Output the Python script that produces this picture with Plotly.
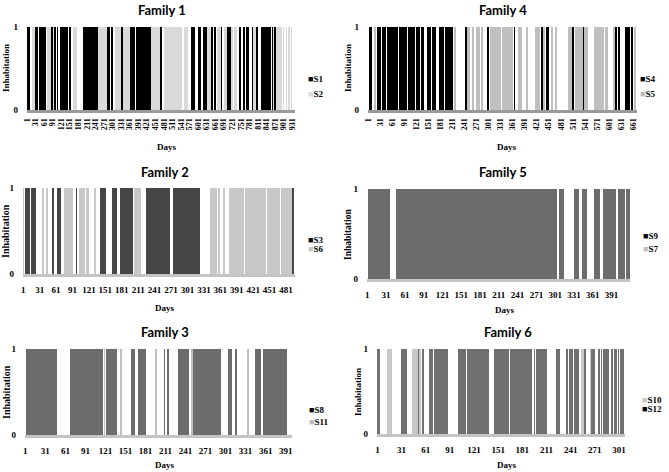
import plotly.graph_objects as go

W, H = 669, 472

# ---------------- data: days on which each subject inhabited (first day, last day) ----------------
F1_DAYS = 940
F1_S1 = [(2, 12), (28, 37), (42, 51), (55, 66), (84, 91), (97, 102), (105, 109), (116, 144), (147, 154),
         (196, 250), (282, 291), (297, 303), (332, 335), (363, 378), (382, 436), (469, 474), (576, 588),
         (600, 609), (619, 631), (646, 652), (658, 664), (681, 685), (704, 716), (745, 751), (759, 765),
         (768, 778), (789, 794), (803, 809), (821, 856), (859, 864), (868, 873)]
F1_S2 = [(19, 27), (72, 84), (92, 96), (161, 168), (171, 177), (251, 281), (308, 331), (338, 362),
         (437, 468), (481, 545), (550, 565), (632, 645), (669, 680), (693, 701), (717, 722), (728, 736),
         (795, 802), (865, 867), (875, 879), (882, 887), (890, 894), (899, 902), (908, 912), (917, 921),
         (927, 931)]

F4_DAYS = 670
F4_S4 = [(3, 10), (23, 32), (36, 46), (48, 49), (51, 52), (54, 55), (57, 75), (77, 96), (100, 102),
         (104, 106), (108, 111), (113, 118), (120, 122), (124, 126), (128, 130), (132, 134), (136, 139),
         (148, 158), (160, 162), (164, 166), (168, 170), (179, 190), (192, 212), (243, 247), (298, 301),
         (364, 367), (433, 436), (445, 451), (509, 514), (537, 539), (617, 621), (624, 628), (642, 653),
         (657, 661)]
F4_S5 = [(15, 21), (216, 218), (248, 254), (260, 265), (270, 279), (283, 287), (304, 331), (334, 362),
         (374, 383), (395, 399), (416, 428), (437, 441), (458, 462), (466, 470), (499, 508), (517, 536),
         (540, 549), (564, 587), (592, 597), (611, 616), (663, 668)]

F2_DAYS = 497
F2_S3 = [(5, 7), (9, 12), (15, 24), (54, 56), (64, 70), (98, 99), (142, 151), (163, 172), (179, 201),
         (226, 268), (275, 323), (493, 496)]
F2_S6 = [(1, 2), (35, 38), (43, 46), (76, 91), (104, 113), (117, 121), (131, 134), (204, 216), (343, 354),
         (358, 360), (366, 369), (378, 404), (406, 423), (425, 444), (446, 470), (472, 491)]

F5_DAYS = 420
F5_S9 = [(2, 37), (47, 304), (308, 314), (332, 339), (344, 351), (364, 372), (378, 397), (402, 412),
         (414, 420)]
F5_S7 = []

F3_DAYS = 400
F3_S8 = [(2, 48), (69, 117), (122, 138), (160, 165), (170, 181), (209, 210), (213, 215), (230, 245),
         (252, 293), (305, 310), (316, 318), (345, 353), (358, 393)]
F3_S11 = [(119, 120), (143, 146), (196, 197), (249, 251), (333, 336)]

F6_DAYS = 308
F6_S10 = [(14, 19), (45, 51), (53, 55), (254, 257), (265, 266)]
F6_S12 = [(1, 4), (31, 33), (35, 37), (52, 52), (57, 58), (66, 70), (72, 84), (86, 88), (102, 111),
          (113, 139), (146, 164), (166, 192), (196, 196), (198, 211), (223, 227), (236, 237), (239, 243),
          (246, 248), (250, 251), (258, 259), (267, 271), (275, 277), (279, 280), (282, 284), (286, 288),
          (291, 293), (295, 298), (300, 301), (303, 307)]

F1_TICKS = list(range(1, 932, 30))
F4_TICKS = list(range(1, 662, 30))
F2_TICKS = list(range(1, 482, 30))
F5_TICKS = list(range(1, 392, 30))
F3_TICKS = list(range(1, 392, 30))
F6_TICKS = list(range(1, 302, 30))


def expand(intervals, n):
    v = [0] * n
    for a, b in intervals:
        for d in range(a, b + 1):
            if 1 <= d <= n:
                v[d - 1] = 1
    return v


def px(x):
    return x / W


def py(y):
    return 1 - y / H


SERIF = "Liberation Serif"
BLACK = "#000000"

# (legend label, intervals, swatch colour, rendered bar colour)
panels = [
    dict(title="Family 1", n=F1_DAYS, ticks=F1_TICKS, box=(27, 27, 295, 110), rot=True,
         series=[("S1", F1_S1, BLACK, "rgba(0,0,0,0.999)"),
                 ("S2", F1_S2, "#d9d9d9", "rgba(217,217,217,0.999)")],
         tpos=(162, 10), ypos=(6, 68), dpos=(167, 147), leg=[(306, 79), (306, 94)], line="#9a9a9a", ysz=9),
    dict(title="Family 4", n=F4_DAYS, ticks=F4_TICKS, box=(368, 27, 637, 110), rot=True,
         series=[("S4", F4_S4, BLACK, "rgba(0,0,0,0.999)"),
                 ("S5", F4_S5, "#bfbfbf", "rgba(191,191,191,0.999)")],
         tpos=(503, 10), ypos=(348, 68), dpos=(507, 147), leg=[(638, 79), (638, 94)], line="#9a9a9a", ysz=9),
    dict(title="Family 2", n=F2_DAYS, ticks=F2_TICKS, box=(23, 188, 295, 274), rot=False,
         series=[("S3", F2_S3, BLACK, "rgba(70,70,70,0.999)"),
                 ("S6", F2_S6, "#c8c8c8", "rgba(200,200,200,0.999)")],
         tpos=(165, 172), ypos=(6, 231), dpos=(165, 308), leg=[(306, 240), (306, 249)], line="#c4c4c4", ysz=10),
    dict(title="Family 5", n=F5_DAYS, ticks=F5_TICKS, box=(367, 189, 630, 279), rot=False,
         series=[("S9", F5_S9, BLACK, "rgba(108,108,108,0.999)"),
                 ("S7", F5_S7, "#bfbfbf", "rgba(191,191,191,0.999)")],
         tpos=(503, 172), ypos=(348, 234), dpos=(505, 310), leg=[(641, 236), (641, 249)], line="#c4c4c4", ysz=9.5),
    dict(title="Family 3", n=F3_DAYS, ticks=F3_TICKS, box=(25, 349, 292, 435), rot=False,
         series=[("S8", F3_S8, BLACK, "rgba(108,108,108,0.999)"),
                 ("S11", F3_S11, "#bfbfbf", "rgba(191,191,191,0.999)")],
         tpos=(165, 332), ypos=(6, 392), dpos=(165, 465), leg=[(307, 410), (307, 422)], line="#c4c4c4", ysz=10),
    dict(title="Family 6", n=F6_DAYS, ticks=F6_TICKS, box=(377, 349, 625, 434), rot=False,
         series=[("S10", F6_S10, "#c8c8c8", "rgba(200,200,200,0.999)"),
                 ("S12", F6_S12, BLACK, "rgba(112,112,112,0.999)")],
         tpos=(508, 332), ypos=(358, 392), dpos=(507, 465), leg=[(640, 400), (640, 409)], line="#c4c4c4", ysz=9),
]

fig = go.Figure()
annotations = []
layout = {}

for i, p in enumerate(panels):
    k = "" if i == 0 else str(i + 1)
    n = p["n"]
    days = list(range(1, n + 1))
    for name, iv, swatch, barcolor in p["series"]:
        fig.add_trace(go.Bar(x=days, y=expand(iv, n), name=name,
                             marker=dict(color=barcolor, line=dict(width=0)),
                             width=1.0, xaxis="x" + k, yaxis="y" + k, showlegend=False, hoverinfo="skip"))
    x0, y0, x1, y1 = p["box"]
    layout["xaxis" + k] = dict(
        domain=[px(x0), px(x1)], anchor="y" + k, range=[0.5, n + 0.5], automargin=False,
        tickmode="array", tickvals=p["ticks"], ticktext=[str(t) for t in p["ticks"]],
        tickangle=-90 if p["rot"] else 0, ticks="", showgrid=False, zeroline=False,
        showline=True, linecolor=p["line"], linewidth=3,
        ticklabelstandoff=2 if p["rot"] else 5,
        tickfont=dict(family=SERIF, size=8 if p["rot"] else 9, color="#000", weight="bold"),
        fixedrange=True)
    layout["yaxis" + k] = dict(
        domain=[py(y1), py(y0)], anchor="x" + k, range=[0, 1], automargin=False,
        tickmode="array", tickvals=[0, 1], ticktext=["0", "1"], ticks="",
        showgrid=True, gridcolor="#d9d9d9", gridwidth=1, zeroline=False, showline=False,
        ticklabelstandoff=8,
        tickfont=dict(family=SERIF, size=9, color="#000", weight="bold"), fixedrange=True)
    annotations.append(dict(text=p["title"], x=px(p["tpos"][0]), y=py(p["tpos"][1]), xref="paper", yref="paper",
                            showarrow=False, xanchor="center", yanchor="middle",
                            font=dict(family="Lato", size=13, color="#000", weight="bold")))
    annotations.append(dict(text="Inhabitation", x=px(p["ypos"][0]), y=py(p["ypos"][1]), xref="paper",
                            yref="paper", showarrow=False, textangle=-90, xanchor="center", yanchor="middle",
                            font=dict(family=SERIF, size=p["ysz"], color="#000", weight="bold")))
    annotations.append(dict(text="Days", x=px(p["dpos"][0]), y=py(p["dpos"][1]), xref="paper", yref="paper",
                            showarrow=False, xanchor="center", yanchor="middle",
                            font=dict(family=SERIF, size=9, color="#000", weight="bold")))
    for (name, iv, swatch, barcolor), (lx, ly) in zip(p["series"], p["leg"]):
        annotations.append(dict(text="<span style='color:%s'>■</span>%s" % (swatch, name),
                                x=px(lx), y=py(ly), xref="paper", yref="paper", showarrow=False,
                                xanchor="left", yanchor="middle",
                                font=dict(family=SERIF, size=9, color="#000", weight="bold")))

fig.update_layout(width=W, height=H, margin=dict(l=0, r=0, t=0, b=0), paper_bgcolor="white",
                  plot_bgcolor="white", barmode="overlay", bargap=0, bargroupgap=0,
                  annotations=annotations, showlegend=False, **layout)

fig.write_html("out.html", config={"displayModeBar": False},
               post_script="document.body.style.margin='0';document.body.style.overflow='hidden';")
